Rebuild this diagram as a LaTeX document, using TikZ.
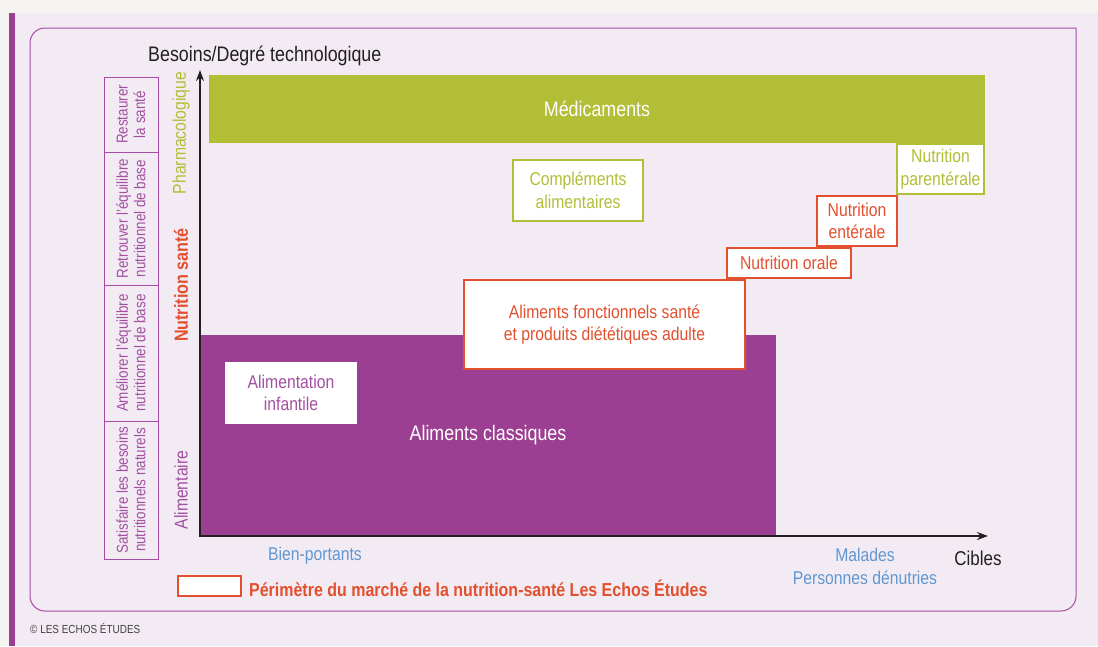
\documentclass[tikz,border=0pt]{standalone}
\usepackage{fontspec}
\setmainfont{Liberation Sans}[FakeStretch=0.85]
\usepackage{tikz}
\usepackage{xcolor}
\usetikzlibrary{arrows.meta,positioning}

\definecolor{pagebg}{HTML}{F6F4F1}
\definecolor{panelbg}{HTML}{F3EBF3}
\definecolor{plum}{HTML}{9C3F92}
\definecolor{plumline}{HTML}{A64CA6}
\definecolor{plumtext}{HTML}{A24FA2}
\definecolor{olive}{HTML}{B2BE36}
\definecolor{brick}{HTML}{E2502E}
\definecolor{skyblue}{HTML}{6197D1}
\definecolor{ink}{HTML}{231F20}

\begin{document}
\begin{tikzpicture}[x=1pt, y=-1pt,
    every node/.style = {inner sep=0pt, align=center,
      font=\fontsize{18.5}{22.5}\selectfont},
    bigtxt/.style = {font=\fontsize{21}{24}\selectfont},
    cell/.style = {draw=plumline, line width=1pt, rotate=90,
      minimum height=54pt, text=plumtext,
      font=\fontsize{15.8}{17.5}\selectfont},
    redbox/.style = {draw=brick, line width=2pt, fill=white, text=brick},
    greenbox/.style = {draw=olive, line width=2pt, fill=white, text=olive}]
  \useasboundingbox (0,0) rectangle (1098,646);
  \fill[pagebg] (0,0) rectangle (1098,646);
  \fill[panelbg] (15,13) rectangle (1098,646);
  \fill[plum] (9,13) rectangle (15,646);
  % frame, square top right corner
  \draw[plumline, line width=1pt, line cap=rect, rounded corners=15pt]
    (1076,28) -- (1076,611) -- (30,611) -- (30,28) -- (1076,28);

  \node (ylabel) [anchor=base west, text=ink, bigtxt] at (148,61) {Besoins/Degré technologique};

  \node (c1) [cell, minimum width=75pt] at (131,114.5) {Restaurer\\la santé};
  \node (c2) [cell, minimum width=133pt] at (131,218.5) {Retrouver l'équilibre\\nutritionnel de base};
  \node (c3) [cell, minimum width=136pt] at (131,353) {Améliorer l'équilibre\\nutritionnel de base};
  \node (c4) [cell, minimum width=138pt] at (131,490) {Satisfaire les besoins\\nutritionnels naturels};

  \node (pharma) [rotate=90, text=olive] at (181,133) {Pharmacologique};
  \node (nsante) [rotate=90, text=brick, font=\fontsize{19}{22}\selectfont\bfseries] at (181,285) {Nutrition santé};
  \node (alim) [rotate=90, text=plumtext] at (181,490) {Alimentaire};

  \node (medic) [fill=olive, text=white, bigtxt, minimum width=776pt, minimum height=68pt] at (597,109) {Médicaments};
  \node (classic) [fill=plum, text=white, bigtxt, minimum width=576pt, minimum height=201pt] at (488,435.5) {\raisebox{-3pt}{Aliments classiques}};
  \node (infant) [fill=white, text=plumtext, minimum width=132pt, minimum height=62pt] at (291,393) {Alimentation\\infantile};
  \node (compl) [greenbox, minimum width=130pt, minimum height=61pt] at (578,190.5) {Compléments\\alimentaires};
  \node (fonct) [redbox, minimum width=281pt, minimum height=89pt] at (604.5,324.5) {Aliments fonctionnels santé\\et produits diététiques adulte};
  \node (orale) [redbox, minimum width=124pt, minimum height=30pt] at (789,263) {Nutrition orale};
  \node (enter) [redbox, minimum width=80pt, minimum height=50pt] at (857,221) {Nutrition\\entérale};
  \node (parent) [greenbox, line width=1.5pt, minimum width=87pt, minimum height=50pt] at (940.5,169) {Nutrition\\parentérale};

  \coordinate (origin) at (200,536);
  \coordinate (ytop) at (200,70);
  \coordinate (xend) at (988,536);
  \draw[ink, line width=2pt, {Stealth[length=11pt,width=8pt]}-{Stealth[length=11pt,width=8pt]}] (ytop) |- (xend);

  \node (healthy) [anchor=base, text=skyblue] at (315,560) {Bien-portants};
  \node (sick) [text=skyblue, font=\fontsize{18.5}{23}\selectfont] at (865,566) {Malades\\Personnes dénutries};
  \node (cibles) [anchor=base, text=ink, font=\fontsize{20}{24}\selectfont] at (978,565) {Cibles};

  \node (legbox) [redbox, minimum width=63pt, minimum height=20pt] at (209.5,586) {};
  \node (legtxt) [right=7pt of legbox, yshift=-2pt, text=brick, font=\fontsize{18.8}{22}\selectfont\bfseries] {Périmètre du marché de la nutrition-santé Les Echos Études};

  \node (copy) [anchor=base west, text=ink!85, font=\fontsize{11.7}{13}\selectfont] at (30,633) {© LES ECHOS ÉTUDES};
\end{tikzpicture}
\end{document}
